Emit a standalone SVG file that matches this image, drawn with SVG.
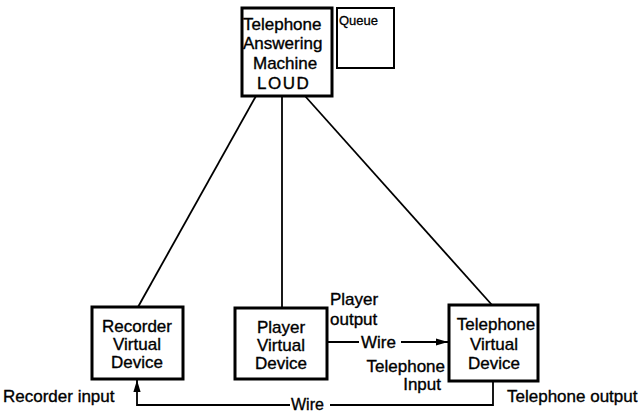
<svg xmlns="http://www.w3.org/2000/svg" width="640" height="413" viewBox="0 0 640 413">
<defs>
<style>
.box{fill:#fff;stroke:#000;stroke-width:3}
.qbox{fill:#fff;stroke:#000;stroke-width:2}
.ln{fill:none;stroke:#000;stroke-width:1.8}
text{font-family:"Liberation Sans",Arial,sans-serif;font-size:17px;fill:#000;stroke:#000;stroke-width:0.35}
.c{text-anchor:middle}
.bg{fill:#fff;stroke:none}
</style>
<marker id="ah" viewBox="0 0 10 10" refX="10" refY="5" markerWidth="12" markerHeight="9" orient="auto" markerUnits="userSpaceOnUse" preserveAspectRatio="none">
<path d="M0,1 L10,5 L0,9 z" fill="#000"/>
</marker>
</defs>
<rect width="640" height="413" fill="#fff"/>
<g id="connectors">
<line class="ln" x1="256" y1="96" x2="138" y2="307"/>
<line class="ln" x1="282" y1="96" x2="282" y2="308"/>
<line class="ln" x1="305" y1="96" x2="492" y2="305"/>
<polyline class="ln" points="327,342 448,342" marker-end="url(#ah)"/>
<polyline class="ln" points="493,381 493,405 137,405 137,380" marker-end="url(#ah)"/>
<rect class="bg" x="359" y="334" width="42" height="16"/>
<text x="361" y="348">Wire</text>
<rect class="bg" x="290" y="397" width="40" height="16"/>
<text x="291" y="410" style="font-size:16px">Wire</text>
<text x="330" y="305">Player</text>
<text x="330" y="325">output</text>
<text x="445" y="372" text-anchor="end">Telephone</text>
<text x="441" y="390" text-anchor="end">Input</text>
<text x="3" y="402">Recorder input</text>
<text x="507" y="402">Telephone output</text>
</g>
<g id="tam">
<rect class="box" x="242" y="8" width="90" height="88"/>
<text x="243" y="30">Telephone</text>
<text x="243" y="49">Answering</text>
<text x="253" y="69">Machine</text>
<text x="257" y="89" style="letter-spacing:1.5px">LOUD</text>
</g>
<g id="queue">
<rect class="qbox" x="337" y="8" width="57" height="60"/>
<text x="339" y="25" style="font-size:13px;stroke-width:0.3">Queue</text>
</g>
<g id="recorder">
<rect class="box" x="92" y="307" width="91" height="72"/>
<text class="c" x="137" y="332">Recorder</text>
<text class="c" x="137" y="350">Virtual</text>
<text class="c" x="137" y="368">Device</text>
</g>
<g id="player">
<rect class="box" x="235" y="308" width="92" height="71"/>
<text class="c" x="281" y="333">Player</text>
<text class="c" x="281" y="351">Virtual</text>
<text class="c" x="281" y="369">Device</text>
</g>
<g id="telephone">
<rect class="box" x="449" y="305" width="89" height="76"/>
<text class="c" x="496" y="330">Telephone</text>
<text class="c" x="494" y="350">Virtual</text>
<text class="c" x="494" y="369">Device</text>
</g>
</svg>
